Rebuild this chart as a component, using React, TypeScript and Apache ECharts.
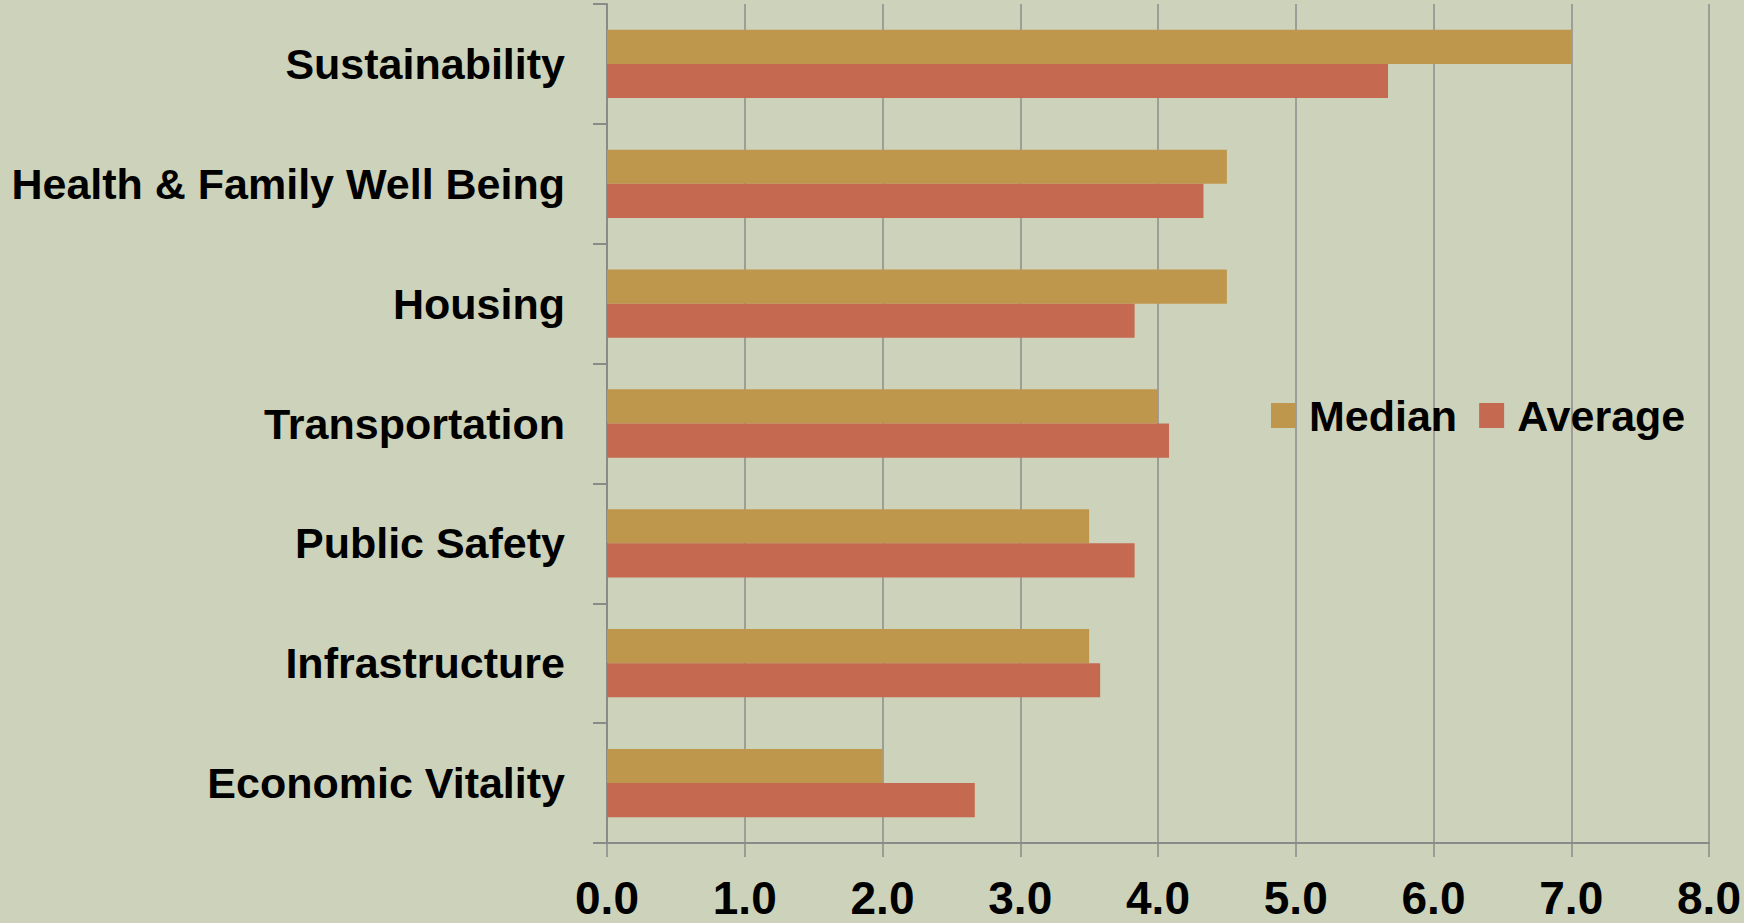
import React, { useEffect, useRef } from "react";
import * as echarts from "echarts";

const categories = [
  "Sustainability",
  "Health & Family Well Being",
  "Housing",
  "Transportation",
  "Public Safety",
  "Infrastructure",
  "Economic Vitality",
];
const medianValues = [7.0, 4.5, 4.5, 4.0, 3.5, 3.5, 2.0];
const averageValues = [5.67, 4.33, 3.83, 4.08, 3.83, 3.58, 2.67];
const xTicks = [0, 1, 2, 3, 4, 5, 6, 7, 8];

const FONT = "'Liberation Sans', Arial, sans-serif";

export default function App() {
  const ref = useRef<HTMLDivElement>(null);
  useEffect(() => {
    if (!ref.current) return;
    const chart = echarts.init(ref.current, undefined, { renderer: "svg" });
    chart.setOption({
      animation: false,
      backgroundColor: "#CDD2BA",
      grid: { left: 607, right: 35, top: 4, bottom: 80, containLabel: false },
      legend: {
        left: 1266,
        top: 389,
        itemWidth: 25,
        itemHeight: 25,
        itemGap: 22,
        icon: "rect",
        data: ["Median", "Average"],
        textStyle: {
          fontFamily: FONT,
          fontWeight: "bold",
          fontSize: 43,
          color: "#000",
          lineHeight: 25,
          padding: [0, 0, 0, 8],
        },
      },
      xAxis: {
        type: "value",
        min: xTicks[0],
        max: xTicks[xTicks.length - 1],
        interval: 1,
        axisLine: { show: true, lineStyle: { color: "#8A8A8A", width: 2 } },
        axisTick: { show: true, length: 14, lineStyle: { color: "#8A8A8A", width: 1.5 } },
        splitLine: { show: true, lineStyle: { color: "#8D8D8D", width: 1.5 } },
        axisLabel: {
          formatter: (v: number) => v.toFixed(1),
          fontFamily: FONT,
          fontWeight: "bold",
          fontSize: 46,
          color: "#000",
          margin: 32,
        },
      },
      yAxis: {
        type: "category",
        inverse: true,
        data: categories,
        axisLine: { show: true, lineStyle: { color: "#8A8A8A", width: 2 } },
        axisTick: { show: true, length: 14, lineStyle: { color: "#8A8A8A", width: 2 } },
        splitLine: { show: false },
        axisLabel: {
          fontFamily: FONT,
          fontWeight: "bold",
          fontSize: 43,
          color: "#000",
          margin: 42,
        },
      },
      series: [
        {
          name: "Median",
          type: "bar",
          data: medianValues,
          barGap: "0%",
          barCategoryGap: "43%",
          itemStyle: { color: "#BF974C" },
        },
        {
          name: "Average",
          type: "bar",
          data: averageValues,
          barGap: "0%",
          barCategoryGap: "43%",
          itemStyle: { color: "#C56A50" },
        },
      ],
    });
    return () => chart.dispose();
  }, []);
  return (
    <div
      ref={ref}
      style={{ position: "fixed", left: 0, top: 0, width: 1744, height: 923 }}
    />
  );
}
